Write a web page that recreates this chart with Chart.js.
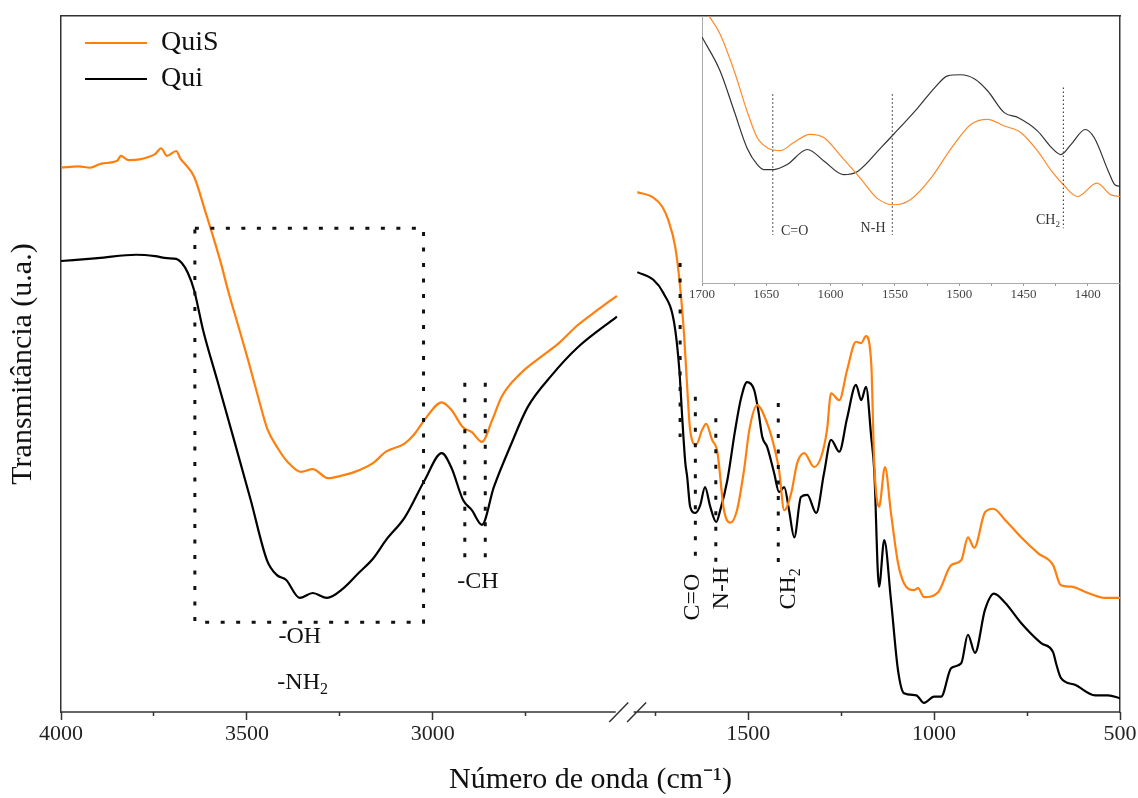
<!DOCTYPE html>
<html>
<head>
<meta charset="utf-8">
<script src="https://cdn.jsdelivr.net/npm/chart.js@4.4.0/dist/chart.umd.min.js"></script>
<style>
  body { margin: 0; background: #fff; }
  #wrap { position: relative; width: 1138px; height: 798px; }
  #main { position: absolute; left: 0; top: 0; }
  #inset { position: absolute; left: 680px; top: 10px; }
</style>
</head>
<body>
<div id="wrap">
  <canvas id="main" width="1138" height="798"></canvas>
  <canvas id="inset" width="446" height="296"></canvas>
</div>
<script>
// Espectros FTIR (transmitância em u.a.)
const quisWn = [4000, 3953, 3922, 3891, 3849, 3839, 3819, 3788, 3767, 3746, 3731, 3715, 3690, 3679, 3669, 3642, 3613, 3570, 3551, 3524, 3497, 3470, 3446, 3417, 3390, 3355, 3323, 3282, 3250, 3210, 3160, 3126, 3075, 3050, 3022, 2976, 2950, 2919, 2895, 2868, 2840, 2815, 2763, 2710, 2661, 2610, 2556, 2505,
  1798, 1755, 1731, 1715, 1696, 1683, 1672, 1664, 1656, 1640, 1624, 1613, 1597, 1583, 1565, 1548, 1530, 1511, 1497, 1476, 1449, 1430, 1417, 1403, 1384, 1368, 1349, 1323, 1304, 1288, 1277, 1255, 1234, 1210, 1196, 1183, 1169, 1161, 1148, 1132, 1116, 1097, 1081, 1054, 1043, 1027, 989, 954, 927, 909, 892, 863, 841, 809, 766, 720, 680, 659, 632, 586, 540, 500];
const quisT = [78.2, 78.4, 78.2, 78.8, 79.2, 79.9, 79.3, 79.4, 79.7, 80.2, 81.0, 79.9, 80.6, 79.5, 78.9, 76.9, 72.1, 64.5, 60.6, 55.6, 50.6, 45.3, 40.8, 37.9, 35.9, 34.5, 34.9, 33.6, 33.9, 34.5, 35.8, 37.4, 38.6, 39.9, 42.0, 44.5, 43.4, 40.9, 40.2, 38.8, 42.0, 45.3, 48.7, 51.0, 53.0, 55.6, 57.8, 59.8,
  74.7, 73.9, 72.6, 70.7, 66.8, 61.1, 53.9, 46.7, 40.5, 38.4, 40.5, 41.4, 39.1, 37.4, 29.0, 27.2, 29.0, 34.8, 40.5, 44.1, 41.5, 38.1, 34.8, 29.0, 31.5, 35.8, 37.2, 35.2, 36.6, 40.5, 45.8, 44.8, 49.1, 53.2, 53.0, 54.0, 50.1, 35.8, 29.5, 35.2, 28.6, 21.4, 18.5, 17.5, 17.8, 16.5, 17.2, 21.1, 21.8, 25.1, 23.6, 28.7, 29.2, 27.6, 25.1, 22.8, 21.1, 18.2, 18.0, 17.1, 16.4, 16.4];

const quiWn = [4000, 3901, 3798, 3747, 3715, 3690, 3675, 3659, 3642, 3618, 3580, 3540, 3490, 3446, 3420, 3395, 3358, 3323, 3285, 3240, 3199, 3160, 3126, 3075, 3022, 2976, 2950, 2919, 2895, 2868, 2836, 2790, 2745, 2680, 2610, 2505,
  1798, 1755, 1728, 1699, 1685, 1677, 1669, 1664, 1656, 1642, 1629, 1616, 1602, 1586, 1575, 1556, 1535, 1519, 1503, 1484, 1473, 1462, 1449, 1430, 1417, 1403, 1390, 1376, 1358, 1341, 1317, 1296, 1277, 1255, 1234, 1210, 1196, 1183, 1169, 1161, 1148, 1134, 1116, 1097, 1081, 1048, 1027, 1000, 981, 954, 927, 909, 890, 863, 839, 809, 766, 712, 680, 672, 659, 621, 567, 532, 500];
const quiT = [64.8, 65.2, 65.7, 65.5, 65.2, 65.1, 64.5, 63.1, 60.6, 54.9, 47.7, 40.1, 30.5, 21.8, 19.7, 19.0, 16.4, 17.1, 16.4, 17.8, 20.0, 22.1, 24.7, 28.0, 33.3, 37.2, 35.1, 30.5, 29.0, 26.9, 32.3, 38.4, 43.8, 48.4, 52.4, 56.8,
  63.2, 62.1, 60.2, 55.9, 49.1, 42.0, 35.8, 33.8, 29.5, 28.6, 29.7, 32.3, 29.5, 27.3, 29.0, 33.3, 40.5, 45.1, 47.4, 46.3, 43.4, 39.5, 38.1, 34.3, 31.6, 32.3, 29.0, 25.1, 30.9, 31.2, 28.6, 34.3, 39.1, 37.4, 42.2, 47.0, 44.8, 46.7, 39.5, 34.8, 18.0, 24.7, 16.1, 6.0, 2.7, 2.4, 1.3, 2.2, 2.2, 6.3, 7.0, 11.1, 8.5, 14.7, 17.0, 15.7, 12.8, 9.9, 8.6, 7.0, 4.9, 3.9, 2.4, 2.4, 2.0];

// Detalhe 1700–1375 cm-1 (escala própria do quadro)
const insQuisWn = [1700, 1695, 1686, 1675, 1665, 1657, 1649, 1639, 1629, 1616, 1605, 1592, 1577, 1564, 1551, 1538, 1522, 1506, 1491, 1478, 1465, 1452, 1439, 1428, 1419, 1408, 1393, 1382, 1375];
const insQuisT = [104, 100.3, 93.3, 79.5, 64.4, 54.4, 50.6, 49.6, 52.5, 55.7, 54.4, 47.5, 39.3, 31.8, 29.3, 31.2, 39.3, 50.6, 59.4, 61.3, 58.8, 56.3, 49.4, 41.8, 36.8, 32.4, 37.4, 33.0, 32.4];
const insQuiWn = [1700, 1686, 1675, 1665, 1657, 1652, 1644, 1634, 1618, 1605, 1590, 1579, 1561, 1551, 1532, 1519, 1509, 1499, 1488, 1478, 1465, 1454, 1439, 1428, 1421, 1413, 1402, 1395, 1384, 1379, 1375];
const insQuiT = [92.1, 79.5, 64.4, 50.6, 44.3, 42.5, 42.5, 44.3, 50.0, 45.6, 40.6, 41.8, 50.6, 55.7, 65.7, 73.2, 77.6, 78.0, 76.4, 72.0, 63.8, 61.9, 56.9, 50.6, 48.1, 51.9, 57.5, 54.4, 41.8, 36.8, 36.2];

// eixo x quebrado: 4000–2500 | 1800–500
const leftEnd = 2500, rightStart = 1800, gap = 48;
function toU(wn) {
  return wn >= leftEnd ? 4000 - wn : (4000 - leftEnd) + gap + (rightStart - wn);
}

const tickWn = [4000, 3750, 3500, 3250, 3000, 2750, 1750, 1500, 1250, 1000, 750, 500];
const tickLbl = ['4000', '', '3500', '', '3000', '', '', '1500', '', '1000', '', '500'];

// linhas pontilhadas das bandas
const markWn = [1683, 1642, 1587, 1419, 2914, 2859];
const markTop = [64.5, 45.3, 42.2, 44.4, 47.3, 47.3];
const markBot = [39.5, 20.8, 21.6, 21.3, 21.8, 21.8];
const boxWn = [3640, 3025];
const boxT = [69.5, 12.9];

const labelTxt = ['-OH', '-NH', '-CH', 'C=O', 'N-H', 'CH'];
const labelSub = ['', '2', '', '', '', '2'];
const labelWn = [3358, 3350, 2879, 1648, 1570, 1390];
const labelT = [10.8, 4.2, 18.7, 16.5, 17.8, 17.7];
const labelRot = [0, 0, 0, 1, 1, 1];

const insMarkWn = [1645, 1552, 1419];
const insMarkTop = [70.7, 70.7, 73.2];
const insMarkBot = [18.0, 18.0, 20.5];
const insLabelTxt = ['C=O', 'N-H', 'CH'];
const insLabelSub = ['', '', '2'];
const insLabelWn = [1628, 1567, 1431];
const insLabelT = [19.5, 20.5, 23.4];

const serif = "'Liberation Serif', 'Times New Roman', serif";
const orange = '#ff7f0e';

function series(wn, t) {
  const pts = [];
  wn.forEach((w, i) => {
    if (i > 0 && wn[i - 1] >= leftEnd && w <= rightStart) {
      pts.push({x: toU(leftEnd) + gap / 2, y: null});
    }
    pts.push({x: toU(w), y: t[i]});
  });
  return pts;
}

function drawLabel(ctx, txt, sub, x, y, size, rot) {
  ctx.save();
  ctx.translate(x, y);
  if (rot) ctx.rotate(-Math.PI / 2);
  const big = size + 'px ' + serif;
  const small = Math.round(size * 0.65) + 'px ' + serif;
  ctx.font = big;
  const w1 = ctx.measureText(txt).width;
  ctx.font = small;
  const w2 = sub ? ctx.measureText(sub).width : 0;
  const x0 = -(w1 + w2) / 2;
  ctx.textAlign = 'left';
  ctx.textBaseline = 'middle';
  ctx.font = big;
  ctx.fillText(txt, x0, 0);
  if (sub) {
    ctx.font = small;
    ctx.fillText(sub, x0 + w1, size * 0.3);
  }
  ctx.restore();
}

const brokenAxis = {
  id: 'brokenAxis',
  afterDraw(chart) {
    const {ctx, chartArea: a, scales: {x}} = chart;
    const xa = x.getPixelForValue(toU(leftEnd));
    const xb = x.getPixelForValue(toU(rightStart));
    ctx.save();
    ctx.strokeStyle = '#333';
    ctx.lineWidth = 1.5;
    ctx.beginPath();
    ctx.moveTo(a.left, a.bottom);
    ctx.lineTo(xa - 3, a.bottom);
    ctx.moveTo(xb - 3, a.bottom);
    ctx.lineTo(a.right, a.bottom);
    [xa, xb].forEach(px => {
      ctx.moveTo(px - 9.5, a.bottom + 10);
      ctx.lineTo(px + 9.5, a.bottom - 9.5);
    });
    ctx.stroke();
    ctx.restore();
  }
};

const peakLabels = {
  id: 'peakLabels',
  afterDatasetsDraw(chart) {
    const {ctx, scales: {x, y}} = chart;
    ctx.fillStyle = '#111';
    labelTxt.forEach((t, i) => {
      drawLabel(ctx, t, labelSub[i], x.getPixelForValue(toU(labelWn[i])), y.getPixelForValue(labelT[i]), 24, labelRot[i]);
    });
  }
};

// legenda dentro do quadro, um pouco afastada do canto
const legendNudge = {
  id: 'legendNudge',
  afterLayout(chart) {
    const a = chart.chartArea;
    chart.legend.left = a.left + 16;
    chart.legend.top = a.top + 5;
    chart.legend.bottom = a.bottom;
  }
};

const markerStyle = {
  borderColor: '#111',
  borderWidth: 3,
  borderDash: [4, 11.5],
  pointRadius: 0,
  tension: 0,
  order: 0
};

const markerSets = markWn.map((w, i) => ({
  ...markerStyle,
  label: 'm' + i,
  data: [{x: toU(w), y: markTop[i]}, {x: toU(w), y: markBot[i]}]
}));
markerSets.push({
  ...markerStyle,
  label: 'box',
  data: [
    {x: toU(boxWn[0]), y: boxT[0]}, {x: toU(boxWn[1]), y: boxT[0]},
    {x: toU(boxWn[1]), y: boxT[1]}, {x: toU(boxWn[0]), y: boxT[1]},
    {x: toU(boxWn[0]), y: boxT[0]}
  ]
});

new Chart(document.getElementById('main'), {
  type: 'line',
  data: {
    datasets: [
      {
        label: 'QuiS',
        data: series(quisWn, quisT),
        borderColor: orange,
        borderWidth: 2.2,
        pointRadius: 0,
        cubicInterpolationMode: 'monotone',
        order: 1
      },
      {
        label: 'Qui',
        data: series(quiWn, quiT),
        borderColor: '#000',
        borderWidth: 2.2,
        pointRadius: 0,
        cubicInterpolationMode: 'monotone',
        order: 1
      },
      ...markerSets
    ]
  },
  options: {
    responsive: false,
    animation: false,
    events: [],
    layout: { padding: 0 },
    scales: {
      x: {
        type: 'linear',
        min: 0,
        max: toU(500),
        afterBuildTicks: scale => {
          scale.ticks = tickWn.map(w => ({value: toU(w)}));
        },
        afterFit: scale => { scale.height = 86; },
        ticks: {
          autoSkip: false,
          maxRotation: 0,
          padding: 1,
          color: '#222',
          font: { family: serif, size: 22 },
          callback: (v, i) => tickLbl[i]
        },
        grid: {
          drawOnChartArea: false,
          tickLength: 8,
          tickColor: '#333',
          tickWidth: 1.5,
          tickBorderDash: c => (tickLbl[c.index] ? [] : [4, 20])
        },
        border: { display: false },
        title: {
          display: true,
          text: 'Número de onda (cm⁻¹)',
          color: '#111',
          font: { family: serif, size: 30 },
          padding: { top: 0, bottom: 0 }
        }
      },
      xTop: {
        type: 'linear',
        position: 'top',
        display: true,
        min: 0,
        max: 1,
        afterFit: scale => { scale.height = 16; },
        ticks: { display: false },
        grid: { display: false },
        border: { color: '#333', width: 1.5 }
      },
      y: {
        min: 0,
        max: 100,
        afterFit: scale => { scale.width = 61; },
        ticks: { display: false },
        grid: { display: false },
        border: { color: '#333', width: 1.5 },
        title: {
          display: true,
          text: 'Transmitância (u.a.)',
          color: '#111',
          font: { family: serif, size: 30 },
          padding: { top: 5, bottom: 0 }
        }
      },
      yRight: {
        type: 'linear',
        position: 'right',
        display: true,
        min: 0,
        max: 1,
        afterFit: scale => { scale.width = 18; },
        ticks: { display: false },
        grid: { display: false },
        border: { color: '#333', width: 1.5 }
      }
    },
    plugins: {
      tooltip: { enabled: false },
      legend: {
        position: 'chartArea',
        align: 'start',
        labels: {
          filter: item => item.datasetIndex < 2,
          usePointStyle: true,
          pointStyle: 'line',
          pointStyleWidth: 62,
          padding: 8,
          color: '#111',
          font: { family: serif, size: 28 }
        }
      }
    }
  },
  plugins: [brokenAxis, peakLabels, legendNudge]
});

// quadro de detalhe (1700–1375 cm-1)
const insetLabels = {
  id: 'insetLabels',
  afterDatasetsDraw(chart) {
    const {ctx, scales: {x, y}} = chart;
    ctx.fillStyle = '#333';
    insLabelTxt.forEach((t, i) => {
      drawLabel(ctx, t, insLabelSub[i], x.getPixelForValue(insLabelWn[i]), y.getPixelForValue(insLabelT[i]), 14, 0);
    });
  }
};

const insMarkers = insMarkWn.map((w, i) => ({
  label: 'im' + i,
  data: [{x: w, y: insMarkTop[i]}, {x: w, y: insMarkBot[i]}],
  borderColor: '#444',
  borderWidth: 1.2,
  borderDash: [1.5, 2.5],
  pointRadius: 0,
  order: 0
}));

const insTicks = [];
for (let w = 1700; w >= 1375; w -= 25) insTicks.push(w);

new Chart(document.getElementById('inset'), {
  type: 'line',
  data: {
    datasets: [
      {
        label: 'QuiS',
        data: insQuisWn.map((w, i) => ({x: w, y: insQuisT[i]})),
        borderColor: '#ff8a2b',
        borderWidth: 1.2,
        pointRadius: 0,
        cubicInterpolationMode: 'monotone',
        order: 1
      },
      {
        label: 'Qui',
        data: insQuiWn.map((w, i) => ({x: w, y: insQuiT[i]})),
        borderColor: '#333',
        borderWidth: 1.2,
        pointRadius: 0,
        cubicInterpolationMode: 'monotone',
        order: 1
      },
      ...insMarkers
    ]
  },
  options: {
    responsive: false,
    animation: false,
    events: [],
    layout: { padding: { top: 6, right: 6, left: 0, bottom: 0 } },
    scales: {
      x: {
        type: 'linear',
        reverse: true,
        min: 1375,
        max: 1700,
        afterBuildTicks: scale => {
          scale.ticks = insTicks.map(w => ({value: w}));
        },
        afterFit: scale => { scale.height = 23; },
        ticks: {
          autoSkip: false,
          maxRotation: 0,
          padding: 1,
          color: '#444',
          font: { family: serif, size: 13 },
          callback: v => (v % 50 === 0 ? String(v) : '')
        },
        grid: { drawOnChartArea: false, tickLength: 3, tickColor: '#999', tickWidth: 1 },
        border: { color: '#aaa', width: 1 }
      },
      y: {
        min: 0,
        max: 100,
        afterFit: scale => { scale.width = 22; },
        ticks: { display: false },
        grid: { display: false },
        border: { color: '#aaa', width: 1 }
      }
    },
    plugins: {
      tooltip: { enabled: false },
      legend: { display: false }
    }
  },
  plugins: [insetLabels]
});
</script>
</body>
</html>
